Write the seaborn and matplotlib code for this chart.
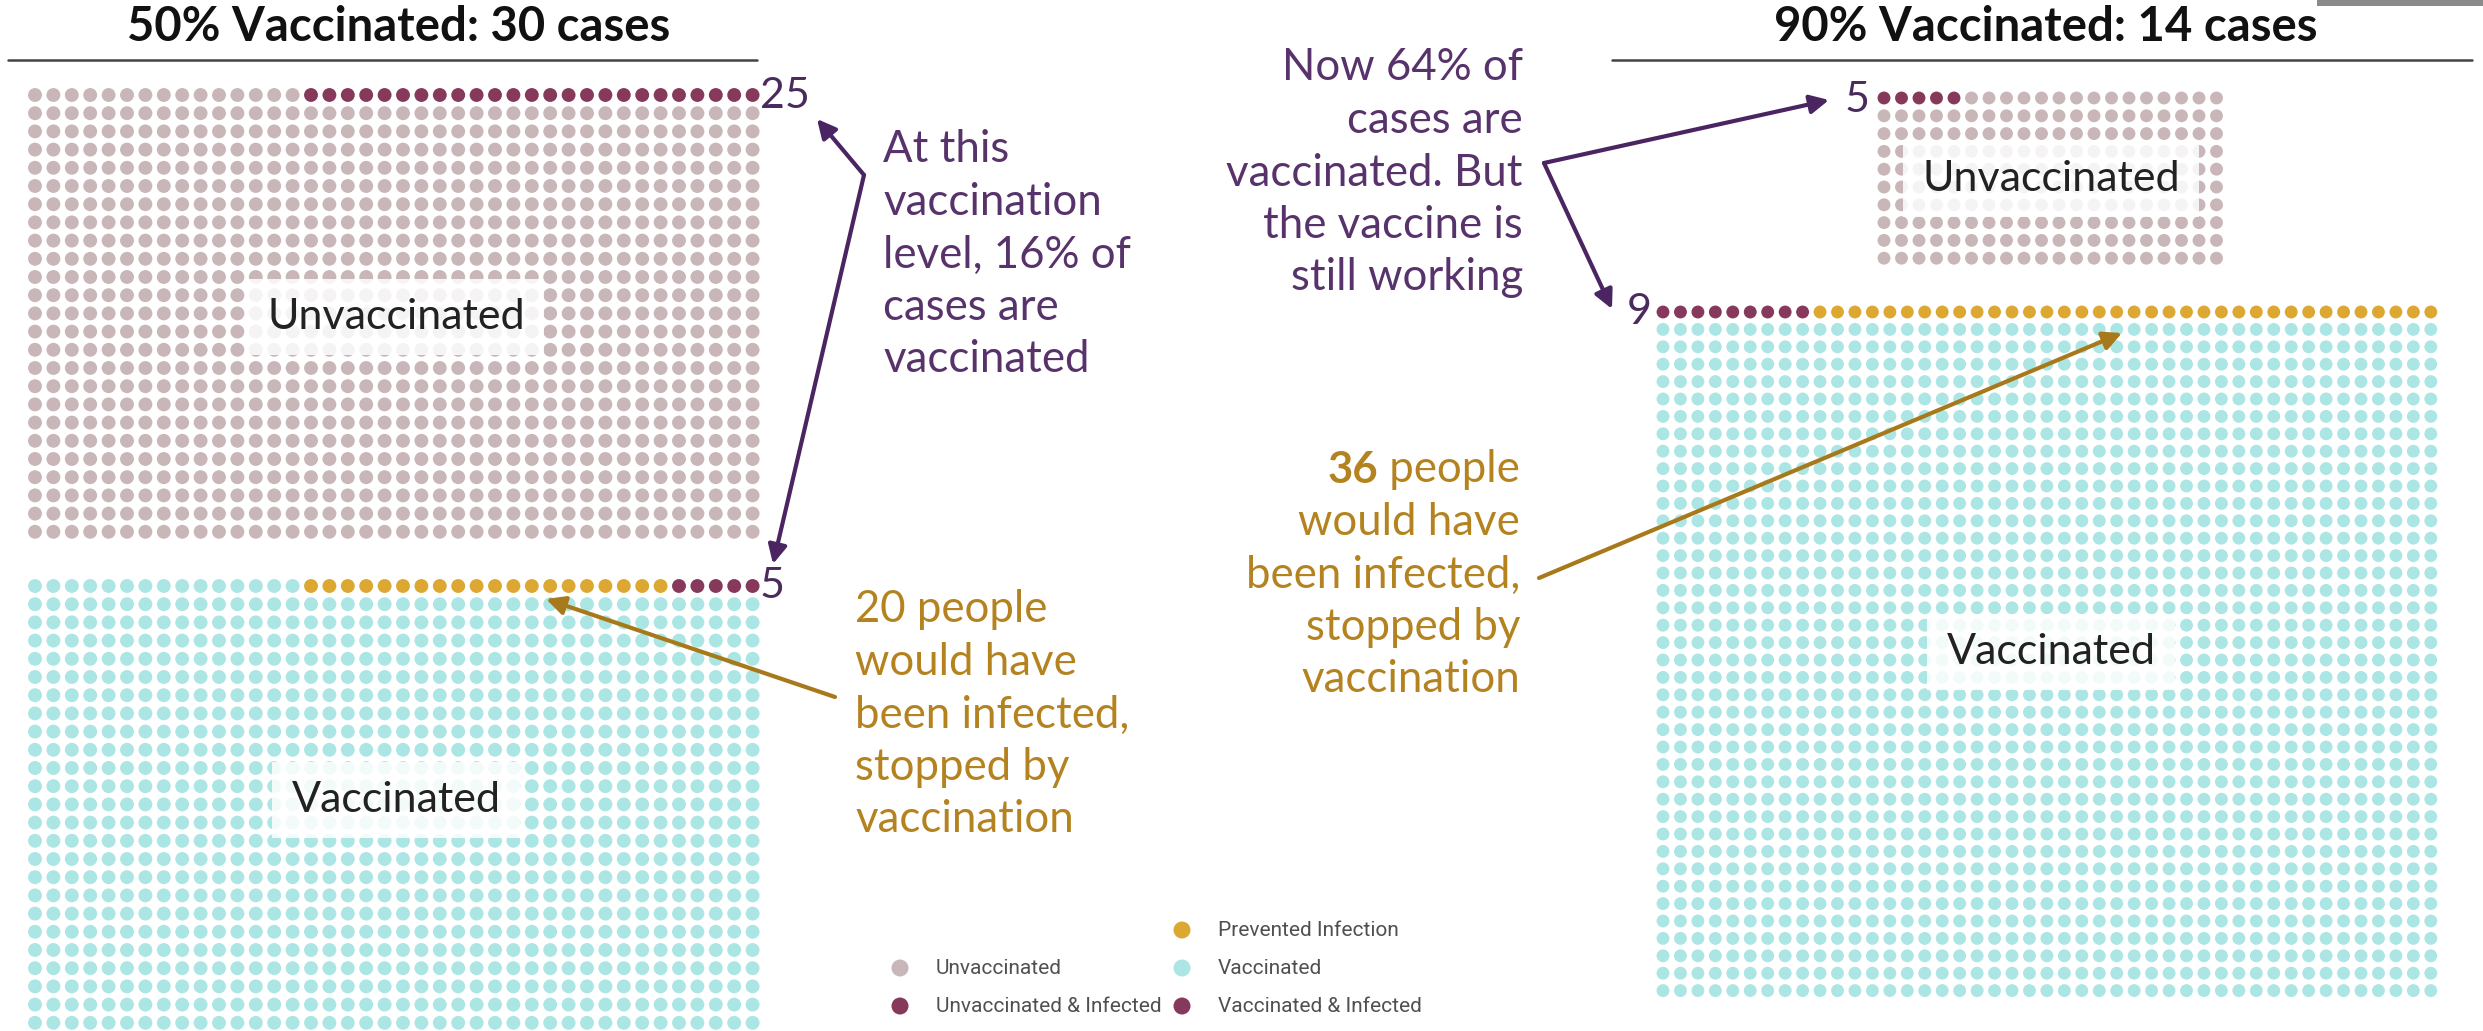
import numpy as np
import pandas as pd
import seaborn as sns
import matplotlib.pyplot as plt
from matplotlib.patches import Rectangle

sns.set_theme(style="white")
plt.rcParams['font.family'] = ['Lato', 'DejaVu Sans']

### data: 2000 people per scenario, 2.5% attack rate without vaccine
scenario = ['50%', '50%', '90%', '90%']
groups = ['Unvaccinated', 'Vaccinated', 'Unvaccinated', 'Vaccinated']
group_sizes = [1000, 1000, 200, 1800]
infected = [25, 5, 5, 9]
prevented = [0, 20, 0, 36]
grid_cols = [40, 40, 20, 45]

titles = ['50% Vaccinated: 30 cases', '90% Vaccinated: 14 cases']
case_labels = ['25', '5', '5', '9']

left_note = ['At this', 'vaccination', 'level, 16% of', 'cases are', 'vaccinated']
left_gold = ['20 people', 'would have', 'been infected,', 'stopped by', 'vaccination']
right_note = ['Now 64% of', 'cases are', 'vaccinated. But', 'the vaccine is', 'still working']
right_gold = [' people', 'would have', 'been infected,', 'stopped by', 'vaccination']

legend_cols = [['', 'Unvaccinated', 'Unvaccinated & Infected'],
               ['Prevented Infection', 'Vaccinated', 'Vaccinated & Infected']]

palette = {
    'Unvaccinated': '#c9b6b9',
    'Unvaccinated & Infected': '#87395c',
    'Prevented Infection': '#dca832',
    'Vaccinated': '#abe6e4',
    'Vaccinated & Infected': '#87395c',
}
PURPLE = '#58336b'
PURPLE_ARROW = '#4b2562'
GOLD = '#b4831f'
NUM = '#4a2b5e'

# layout of each block: origin and spacing in pixels
block_x0 = [35, 35, 1884, 1663]
block_y0 = [95, 586, 98, 312]
block_dx = [18.4, 18.4, 17.5, 17.45]
block_dy = [18.2, 18.2, 17.8, 17.4]
block_align = ['right', 'right', 'left', 'left']


def make_block(i):
    n, ncol = group_sizes[i], grid_cols[i]
    base = groups[i]
    inf_status = base + ' & Infected'
    nbase = ncol - infected[i] - prevented[i]
    if block_align[i] == 'right':
        top = [base] * nbase + ['Prevented Infection'] * prevented[i] + [inf_status] * infected[i]
    else:
        top = [inf_status] * infected[i] + ['Prevented Infection'] * prevented[i] + [base] * nbase
    status = top + [base] * (n - ncol)
    idx = np.arange(n)
    return pd.DataFrame({
        'x': block_x0[i] + (idx % ncol) * block_dx[i],
        'y': block_y0[i] + (idx // ncol) * block_dy[i],
        'status': status,
        'scenario': scenario[i],
    })


dots = pd.concat([make_block(i) for i in range(4)], ignore_index=True)

fig = plt.figure(figsize=(24.83, 10.31), dpi=100)
ax = fig.add_axes([0, 0, 1, 1])

sns.scatterplot(data=dots[dots['scenario'] == '50%'], x='x', y='y', hue='status',
                palette=palette, s=100, linewidth=0, legend=False, ax=ax)
sns.scatterplot(data=dots[dots['scenario'] == '90%'], x='x', y='y', hue='status',
                palette=palette, s=86, linewidth=0, legend=False, ax=ax)

ax.set_xlim(0, 2483)
ax.set_ylim(1031, 0)
ax.axis('off')

# titles with rules
ax.text(399, 27, titles[0], ha='center', va='center', fontsize=34, fontweight='bold', color='#111111')
ax.plot([8, 757], [60, 60], color='#444444', lw=1.8)
ax.text(2046, 27, titles[1], ha='center', va='center', fontsize=34, fontweight='bold', color='#111111')
ax.plot([1612, 2472], [60, 60], color='#444444', lw=1.8)
ax.add_patch(Rectangle((2317, 0), 166, 6, color='#8a8a8a', lw=0))

# block labels
box = dict(boxstyle='square,pad=0.45', fc='white', ec='none', alpha=0.85)
for (bx, by), lab in zip([(396, 317), (396, 800), (2051, 179), (2051, 652)], groups):
    ax.text(bx, by, lab, ha='center', va='center', fontsize=31, color='#222222', bbox=box)

# case counts
num_pos = [(760, 96, 'left'), (760, 586, 'left'), (1870, 100, 'right'), (1652, 312, 'right')]
for (nx, ny, ha), lab in zip(num_pos, case_labels):
    ax.text(nx, ny, lab, ha=ha, va='center', fontsize=31, color=NUM)

# annotation text blocks
step = 52.5
fs = 31.5
for k, line in enumerate(left_note):
    ax.text(883, 150 + k * step, line, ha='left', va='center', fontsize=fs, color=PURPLE)
for k, line in enumerate(left_gold):
    ax.text(855, 610 + k * step, line, ha='left', va='center', fontsize=fs, color=GOLD)
for k, line in enumerate(right_note):
    ax.text(1523, 68 + k * step, line, ha='right', va='center', fontsize=fs, color=PURPLE)
gold_texts = []
for k, line in enumerate(right_gold):
    gold_texts.append(ax.text(1520, 470 + k * step, line, ha='right', va='center', fontsize=fs, color=GOLD))

fig.canvas.draw()
renderer = fig.canvas.get_renderer()
bb = gold_texts[0].get_window_extent(renderer)
x_left = ax.transData.inverted().transform((bb.x0, bb.y0))[0]
ax.text(x_left, 470, '36', ha='right', va='center', fontsize=fs, fontweight='bold', color=GOLD)

# arrows
purple_arrow = dict(arrowstyle='-|>', color=PURPLE_ARROW, lw=3, mutation_scale=28, shrinkA=0, shrinkB=0)
gold_arrow = dict(arrowstyle='-|>', color='#a8791a', lw=3, mutation_scale=28, shrinkA=0, shrinkB=0)
ax.annotate('', xy=(817, 119), xytext=(864, 175), arrowprops=purple_arrow)
ax.annotate('', xy=(773, 564), xytext=(864, 175), arrowprops=purple_arrow)
ax.annotate('', xy=(1829, 100), xytext=(1544, 163), arrowprops=purple_arrow)
ax.annotate('', xy=(1612, 309), xytext=(1544, 163), arrowprops=purple_arrow)
ax.annotate('', xy=(546, 599), xytext=(835, 697), arrowprops=gold_arrow)
ax.annotate('', xy=(2122, 333), xytext=(1539, 578), arrowprops=gold_arrow)

# legend
leg_x = [900, 1182]
leg_y = [930, 968, 1006]
leg_rows = []
for c, col in enumerate(legend_cols):
    for r, lab in enumerate(col):
        if lab:
            leg_rows.append({'x': leg_x[c], 'y': leg_y[r], 'status': lab})
leg_df = pd.DataFrame(leg_rows)
sns.scatterplot(data=leg_df, x='x', y='y', hue='status', palette=palette, s=150,
                linewidth=0, legend=False, ax=ax)
for row in leg_rows:
    ax.text(row['x'] + 36, row['y'], row['status'], ha='left', va='center', fontsize=15,
            color='#505050', family=['Roboto', 'DejaVu Sans'])

ax.set_xlim(0, 2483)
ax.set_ylim(1031, 0)
fig.savefig('out.png', dpi=100)
